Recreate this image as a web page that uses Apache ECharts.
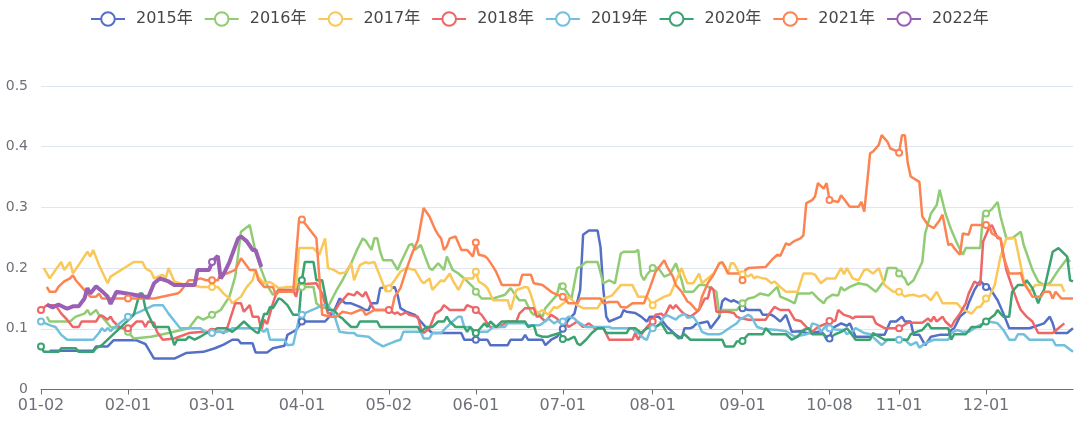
<!DOCTYPE html>
<html><head><meta charset="utf-8">
<script src="https://cdn.jsdelivr.net/npm/echarts@6/dist/echarts.min.js"></script>
<style>html,body{margin:0;padding:0;background:#fff}#c{width:1080px;height:422px}</style>
</head><body><div id="c"></div>
<script>
// Category axis: union of trading dates (MM-DD) over all years
const monthDays = [31,29,31,30,31,30,31,31,30,31,30,31];
const skipDates = ['01-01','05-01','10-01','10-02','10-03','10-04','10-05','10-06','10-07'];
const categories = [];
for (let m = 1; m <= 12; m++) {
  for (let d = 1; d <= monthDays[m-1]; d++) {
    const s = String(m).padStart(2,'0') + '-' + String(d).padStart(2,'0');
    if (skipDates.indexOf(s) < 0) categories.push(s);
  }
}
const yTicks = [0, 0.1, 0.2, 0.3, 0.4, 0.5];
const seriesNames = ['2015年','2016年','2017年','2018年','2019年','2020年','2021年','2022年'];

// [category index, value]
const y2015 = [[3,.064],[18,.064],[19,.071],[23,.071],[25,.081],[33,.081],[36,.075],[39,.051],[46,.051],[50,.06],[56,.062],[60,.068],[63,.074],[66,.082],[68,.082],[69,.076],[73,.076],[74,.061],[78,.061],[80,.068],[84,.072],[85,.09],[88,.098],[90,.112],[98,.112],[101,.128],[103,.15],[105,.142],[107,.142],[110,.136],[112,.131],[113,.131],[114,.142],[116,.142],[117,.167],[119,.169],[121,.167],[122,.169],[123,.156],[124,.134],[126,.128],[129,.123],[131,.112],[133,.101],[135,.093],[145,.093],[146,.082],[150,.082],[154,.082],[155,.073],[161,.073],[162,.082],[166,.082],[167,.09],[168,.082],[173,.082],[174,.073],[176,.082],[178,.087],[180,.1],[182,.115],[184,.125],[186,.164],[187,.255],[189,.262],[192,.262],[193,.235],[194,.164],[195,.12],[196,.112],[200,.12],[201,.131],[202,.128],[205,.126],[207,.12],[209,.112],[210,.12],[213,.12],[214,.115],[216,.103],[219,.09],[221,.084],[222,.101],[224,.101],[225,.103],[226,.108],[230,.112],[231,.101],[234,.12],[235,.145],[236,.15],[238,.145],[239,.147],[241,.142],[242,.134],[244,.131],[248,.131],[249,.123],[252,.123],[253,.12],[255,.112],[257,.123],[259,.095],[262,.096],[264,.093],[266,.093],[269,.096],[271,.086],[272,.084],[273,.101],[276,.109],[278,.105],[279,.109],[280,.098],[281,.087],[286,.087],[287,.09],[291,.09],[293,.112],[295,.112],[297,.12],[298,.112],[300,.112],[301,.09],[303,.09],[305,.073],[307,.087],[310,.09],[313,.09],[314,.098],[315,.101],[317,.12],[319,.128],[320,.142],[322,.164],[324,.179],[326,.169],[327,.169],[330,.147],[332,.125],[334,.101],[341,.101],[346,.109],[348,.12],[349,.109],[350,.093],[354,.093],[356,.101]];
const y2016 = [[2,.12],[3,.112],[10,.112],[12,.12],[15,.125],[16,.131],[17,.123],[19,.131],[20,.123],[21,.12],[23,.109],[24,.103],[28,.101],[30,.095],[32,.084],[38,.087],[44,.093],[51,.101],[54,.12],[56,.115],[59,.123],[62,.131],[65,.153],[67,.186],[69,.26],[72,.271],[74,.227],[76,.197],[78,.172],[80,.156],[82,.164],[86,.164],[87,.16],[88,.167],[90,.169],[94,.169],[95,.142],[97,.134],[99,.136],[102,.164],[104,.18],[107,.208],[109,.23],[111,.249],[112,.245],[114,.23],[115,.249],[116,.249],[117,.227],[118,.213],[121,.213],[123,.197],[124,.208],[127,.238],[128,.24],[129,.23],[131,.238],[134,.2],[135,.197],[137,.208],[139,.197],[140,.219],[142,.197],[144,.191],[146,.183],[149,.169],[150,.161],[152,.15],[156,.15],[160,.156],[162,.167],[164,.153],[165,.147],[167,.147],[169,.128],[170,.123],[171,.128],[173,.12],[174,.134],[178,.156],[179,.175],[180,.17],[182,.156],[183,.15],[185,.2],[186,.202],[188,.21],[192,.21],[194,.175],[196,.18],[198,.175],[200,.224],[201,.227],[205,.227],[206,.23],[207,.189],[208,.18],[209,.189],[211,.2],[213,.2],[215,.186],[217,.19],[219,.208],[221,.18],[222,.161],[225,.161],[227,.172],[229,.172],[231,.167],[233,.161],[234,.123],[235,.131],[240,.131],[242,.142],[244,.15],[246,.152],[248,.158],[251,.155],[254,.169],[255,.153],[258,.147],[260,.142],[261,.158],[265,.158],[266,.16],[268,.15],[270,.142],[271,.15],[273,.156],[275,.155],[276,.169],[277,.163],[279,.169],[282,.175],[285,.172],[288,.161],[291,.18],[292,.2],[295,.2],[296,.191],[298,.183],[299,.172],[301,.18],[304,.21],[305,.257],[307,.29],[309,.304],[310,.329],[312,.29],[314,.263],[316,.241],[318,.222],[319,.233],[324,.233],[325,.29],[326,.29],[328,.297],[330,.309],[331,.285],[333,.249],[335,.249],[338,.26],[339,.238],[342,.197],[344,.178],[346,.172],[348,.175],[351,.197],[354,.216],[355,.21]];
const y2017 = [[1,.2],[3,.183],[5,.197],[7,.21],[8,.197],[10,.21],[11,.191],[13,.205],[16,.227],[17,.219],[18,.23],[20,.205],[23,.175],[24,.186],[32,.21],[35,.21],[36,.2],[38,.194],[39,.183],[42,.189],[43,.183],[44,.2],[46,.178],[50,.172],[52,.172],[55,.169],[59,.169],[61,.169],[63,.158],[65,.15],[66,.142],[69,.153],[71,.169],[73,.18],[74,.197],[75,.185],[77,.175],[79,.177],[82,.167],[85,.169],[88,.169],[89,.233],[94,.233],[96,.222],[98,.249],[99,.2],[101,.197],[103,.191],[105,.193],[107,.208],[108,.18],[110,.205],[112,.21],[113,.208],[115,.21],[117,.186],[119,.161],[120,.167],[122,.18],[124,.194],[126,.2],[129,.197],[131,.18],[132,.175],[134,.183],[135,.164],[138,.18],[139,.178],[141,.191],[142,.18],[144,.164],[146,.183],[149,.183],[150,.194],[151,.178],[153,.172],[154,.167],[156,.147],[161,.147],[162,.131],[164,.164],[167,.169],[168,.168],[169,.156],[171,.125],[173,.131],[175,.123],[177,.136],[178,.134],[181,.145],[182,.153],[185,.139],[187,.134],[192,.134],[194,.15],[196,.153],[197,.155],[200,.172],[204,.172],[206,.153],[209,.153],[211,.139],[212,.145],[215,.153],[217,.156],[219,.178],[221,.2],[222,.186],[223,.175],[225,.175],[227,.191],[228,.175],[230,.183],[232,.191],[234,.208],[235,.208],[237,.191],[238,.208],[239,.208],[241,.191],[242,.19],[244,.186],[245,.19],[246,.183],[247,.186],[249,.183],[250,.183],[252,.175],[253,.178],[255,.169],[257,.161],[261,.161],[263,.191],[266,.191],[267,.189],[269,.175],[271,.183],[273,.183],[274,.183],[276,.2],[277,.19],[278,.2],[280,.183],[282,.18],[284,.197],[285,.198],[287,.191],[289,.2],[291,.172],[294,.161],[296,.161],[298,.153],[299,.155],[301,.156],[303,.153],[305,.156],[307,.147],[309,.161],[311,.142],[316,.142],[318,.131],[319,.13],[321,.125],[323,.136],[324,.136],[326,.15],[327,.152],[329,.172],[331,.219],[333,.249],[335,.25],[336,.249],[337,.227],[339,.18],[341,.161],[343,.172],[352,.172],[353,.161]];
const y2018 = [[0,.131],[2,.139],[5,.139],[7,.125],[9,.115],[11,.103],[13,.103],[14,.112],[19,.112],[20,.12],[21,.122],[23,.115],[24,.12],[25,.112],[27,.103],[29,.101],[30,.101],[31,.103],[33,.112],[35,.112],[36,.103],[37,.112],[39,.11],[40,.095],[42,.082],[46,.084],[51,.093],[56,.095],[59,.095],[62,.095],[63,.093],[64,.098],[67,.142],[69,.142],[70,.128],[72,.139],[73,.12],[75,.12],[76,.098],[77,.115],[78,.108],[80,.142],[81,.156],[82,.164],[87,.164],[88,.153],[89,.175],[91,.174],[95,.175],[97,.158],[99,.125],[101,.127],[103,.142],[104,.147],[106,.158],[108,.155],[109,.161],[111,.153],[112,.161],[114,.139],[115,.131],[120,.131],[122,.125],[123,.127],[124,.123],[126,.127],[127,.123],[130,.12],[131,.101],[132,.093],[134,.101],[136,.125],[138,.131],[139,.139],[141,.131],[146,.131],[147,.139],[149,.135],[150,.131],[152,.123],[154,.109],[155,.103],[158,.103],[161,.112],[164,.112],[165,.125],[167,.134],[170,.134],[171,.12],[172,.121],[174,.112],[176,.123],[178,.117],[179,.11],[181,.109],[182,.103],[185,.112],[187,.103],[189,.109],[191,.101],[194,.101],[196,.082],[204,.082],[205,.093],[206,.082],[207,.09],[209,.103],[211,.112],[212,.123],[214,.125],[215,.12],[217,.139],[218,.133],[219,.139],[221,.128],[222,.124],[224,.12],[226,.127],[227,.131],[229,.15],[230,.15],[231,.169],[232,.164],[233,.128],[237,.128],[239,.126],[240,.12],[241,.118],[244,.115],[250,.115],[251,.123],[253,.136],[255,.131],[258,.131],[260,.115],[262,.113],[264,.103],[266,.095],[268,.103],[271,.109],[272,.113],[274,.113],[275,.131],[277,.123],[279,.12],[280,.117],[281,.12],[287,.12],[288,.109],[291,.101],[296,.101],[299,.11],[304,.11],[306,.117],[307,.112],[308,.12],[309,.112],[311,.12],[312,.112],[314,.103],[315,.112],[317,.125],[319,.142],[320,.158],[322,.178],[324,.172],[325,.244],[327,.266],[328,.271],[330,.249],[331,.249],[333,.197],[335,.169],[337,.142],[338,.131],[340,.12],[342,.112],[344,.093],[349,.093],[351,.101],[353,.109]];
const y2019 = [[0,.112],[3,.106],[5,.103],[7,.09],[9,.082],[18,.082],[20,.093],[21,.101],[22,.096],[23,.101],[24,.096],[25,.101],[30,.12],[34,.128],[39,.139],[42,.139],[44,.125],[48,.101],[55,.101],[57,.093],[59,.093],[61,.095],[64,.095],[66,.101],[75,.101],[77,.095],[78,.101],[79,.082],[84,.082],[85,.073],[87,.074],[89,.117],[90,.123],[92,.128],[95,.134],[97,.139],[99,.139],[101,.125],[103,.095],[106,.093],[108,.093],[109,.089],[113,.087],[115,.079],[118,.071],[119,.073],[122,.079],[124,.082],[125,.095],[131,.095],[132,.084],[134,.084],[135,.093],[138,.093],[140,.103],[142,.112],[144,.12],[145,.12],[146,.103],[148,.103],[149,.095],[154,.095],[156,.103],[160,.103],[161,.109],[167,.109],[168,.106],[172,.106],[173,.109],[175,.117],[177,.109],[178,.112],[180,.112],[182,.12],[184,.117],[185,.112],[187,.106],[188,.103],[196,.103],[197,.101],[204,.101],[205,.095],[206,.093],[208,.084],[209,.082],[210,.095],[211,.101],[213,.106],[215,.12],[216,.122],[217,.12],[219,.115],[220,.12],[222,.125],[223,.118],[225,.12],[227,.106],[228,.095],[230,.091],[234,.091],[235,.093],[238,.103],[240,.109],[241,.115],[244,.123],[245,.12],[247,.103],[249,.1],[254,.098],[257,.096],[260,.087],[264,.091],[265,.093],[266,.109],[268,.106],[269,.095],[271,.106],[272,.101],[274,.099],[277,.098],[278,.091],[280,.096],[281,.101],[284,.093],[286,.091],[288,.082],[290,.073],[292,.082],[296,.082],[298,.082],[300,.073],[302,.078],[303,.069],[305,.076],[308,.082],[313,.082],[314,.093],[316,.098],[318,.095],[320,.095],[322,.101],[325,.109],[327,.112],[330,.109],[332,.098],[334,.082],[336,.082],[337,.091],[339,.091],[341,.082],[349,.082],[350,.073],[353,.073],[356,.062]];
const y2020 = [[0,.071],[1,.062],[6,.062],[7,.068],[12,.068],[13,.062],[18,.062],[19,.068],[21,.073],[32,.123],[34,.158],[35,.158],[36,.134],[39,.103],[44,.103],[46,.073],[47,.082],[50,.082],[51,.087],[53,.082],[55,.087],[57,.093],[58,.095],[61,.101],[64,.101],[66,.095],[68,.103],[70,.112],[72,.103],[74,.095],[75,.093],[77,.125],[78,.124],[79,.136],[80,.134],[82,.15],[83,.148],[85,.139],[87,.123],[89,.123],[90,.18],[91,.21],[94,.21],[95,.18],[97,.18],[99,.131],[101,.131],[103,.12],[104,.117],[105,.112],[107,.103],[109,.103],[110,.112],[116,.112],[117,.103],[130,.103],[131,.095],[133,.103],[135,.103],[137,.112],[139,.112],[140,.12],[141,.112],[143,.103],[146,.103],[147,.095],[148,.103],[150,.093],[151,.098],[153,.109],[154,.103],[155,.112],[157,.103],[159,.112],[167,.112],[168,.103],[170,.106],[171,.09],[173,.087],[175,.087],[176,.089],[179,.093],[180,.083],[182,.082],[184,.087],[185,.076],[186,.073],[188,.082],[190,.093],[192,.101],[194,.101],[195,.093],[202,.093],[203,.101],[205,.101],[207,.093],[209,.101],[212,.103],[214,.109],[215,.101],[216,.093],[218,.093],[220,.084],[222,.091],[224,.082],[235,.082],[236,.071],[239,.071],[240,.079],[242,.08],[244,.091],[249,.091],[250,.101],[252,.091],[257,.091],[259,.082],[261,.087],[263,.098],[265,.101],[266,.091],[270,.091],[271,.082],[274,.091],[276,.095],[278,.101],[279,.095],[281,.082],[286,.082],[287,.093],[291,.082],[299,.082],[300,.091],[302,.095],[304,.098],[306,.109],[307,.101],[310,.101],[313,.101],[314,.082],[315,.091],[319,.091],[321,.103],[324,.103],[325,.109],[326,.112],[329,.123],[330,.131],[331,.125],[332,.12],[334,.12],[335,.161],[337,.172],[339,.172],[340,.18],[342,.167],[344,.142],[345,.156],[346,.164],[349,.227],[351,.233],[354,.219],[355,.18],[356,.178]];
const y2021 = [[2,.169],[3,.161],[5,.161],[6,.169],[8,.178],[10,.183],[11,.188],[12,.18],[14,.169],[17,.153],[19,.153],[20,.158],[21,.15],[30,.15],[39,.15],[47,.158],[48,.161],[51,.18],[53,.18],[55,.183],[57,.18],[59,.18],[61,.18],[62,.191],[64,.191],[67,.197],[69,.216],[70,.21],[72,.197],[74,.197],[75,.18],[77,.169],[80,.169],[81,.156],[82,.161],[87,.161],[89,.279],[90,.28],[95,.249],[97,.123],[100,.12],[102,.12],[104,.128],[107,.125],[110,.131],[111,.131],[112,.123],[115,.131],[121,.131],[122,.153],[124,.167],[126,.197],[128,.224],[130,.246],[132,.299],[134,.285],[136,.263],[137,.255],[138,.249],[139,.23],[140,.236],[141,.249],[143,.252],[145,.23],[147,.23],[149,.219],[150,.242],[151,.222],[153,.22],[154,.216],[156,.202],[157,.194],[159,.172],[165,.172],[166,.189],[169,.189],[170,.175],[173,.172],[176,.161],[178,.156],[180,.153],[182,.142],[185,.142],[186,.15],[193,.15],[194,.142],[196,.144],[199,.144],[200,.136],[202,.135],[204,.142],[208,.142],[210,.167],[212,.194],[213,.2],[215,.213],[216,.202],[218,.186],[219,.172],[221,.161],[222,.153],[223,.145],[224,.142],[226,.131],[227,.132],[228,.153],[230,.175],[232,.189],[234,.208],[235,.21],[236,.202],[237,.191],[241,.191],[242,.18],[243,.197],[244,.2],[250,.202],[252,.213],[254,.222],[255,.22],[257,.241],[258,.238],[260,.245],[262,.249],[263,.254],[264,.307],[266,.312],[267,.318],[268,.34],[270,.331],[271,.34],[272,.312],[275,.309],[276,.32],[279,.301],[282,.301],[283,.309],[284,.293],[286,.389],[287,.392],[289,.403],[290,.419],[292,.408],[293,.397],[295,.393],[296,.39],[297,.419],[298,.419],[299,.373],[300,.351],[303,.342],[304,.285],[306,.271],[308,.266],[310,.279],[311,.288],[313,.238],[314,.24],[315,.233],[317,.222],[318,.257],[320,.255],[321,.271],[326,.271],[327,.271],[328,.257],[331,.249],[332,.219],[334,.191],[337,.191],[338,.192],[339,.175],[341,.161],[342,.153],[345,.153],[346,.161],[348,.161],[349,.15],[350,.161],[352,.15],[356,.15]];
const y2022 = [[2,.14],[4,.135],[6,.14],[9,.133],[11,.137],[13,.137],[15,.15],[16,.167],[17,.158],[19,.17],[21,.162],[23,.153],[24,.141],[26,.161],[37,.152],[39,.175],[41,.183],[44,.178],[46,.172],[53,.172],[54,.197],[58,.197],[59,.21],[60,.215],[61,.22],[62,.183],[63,.19],[65,.21],[68,.249],[69,.252],[71,.244],[73,.23],[74,.23],[76,.202]];

const allData = [y2015, y2016, y2017, y2018, y2019, y2020, y2021, y2022];
const colors = ['#5470c6','#91cc75','#fac858','#ee6666','#73c0de','#3ba272','#fc8452','#9a60b4'];
const FONT = '"DejaVu Sans", "Noto Sans CJK SC", sans-serif';

function isMonthStart(index) {
  return index === 0 || categories[index].slice(0,2) !== categories[index-1].slice(0,2);
}

const chart = echarts.init(document.getElementById('c'), null, {renderer: 'canvas'});
chart.setOption({
  animation: false,
  color: colors,
  textStyle: {fontFamily: FONT},
  legend: {
    top: 6, left: 85,
    itemWidth: 34, itemHeight: 17, itemGap: 11,
    textStyle: {fontSize: 16, color: '#464646', fontFamily: FONT, padding: [0, 0, 0, 6]},
    data: seriesNames
  },
  grid: {left: 41, right: 7, top: 86, bottom: 32.5, containLabel: false},
  xAxis: {
    type: 'category',
    data: categories,
    boundaryGap: false,
    axisLine: {lineStyle: {color: '#6E7079'}},
    axisTick: {interval: function (i) { return isMonthStart(i); }, length: 5},
    axisLabel: {
      interval: function (i) { return isMonthStart(i); },
      color: '#6E7079', fontSize: 16, margin: 8, fontFamily: FONT
    }
  },
  yAxis: {
    type: 'value',
    min: yTicks[0], max: yTicks[yTicks.length-1], interval: 0.1,
    axisLabel: {color: '#6E7079', fontSize: 14, margin: 13, fontFamily: FONT},
    splitLine: {lineStyle: {color: '#E0E6F1'}}
  },
  series: allData.map(function (d, k) {
    return {
      name: seriesNames[k],
      type: 'line',
      data: d,
      symbol: 'emptyCircle',
      symbolSize: 6,
      lineStyle: {width: k === 7 ? 4 : 2.5},
      itemStyle: {borderWidth: 2},
      emphasis: {disabled: true}
    };
  })
});
</script>
</body></html>
